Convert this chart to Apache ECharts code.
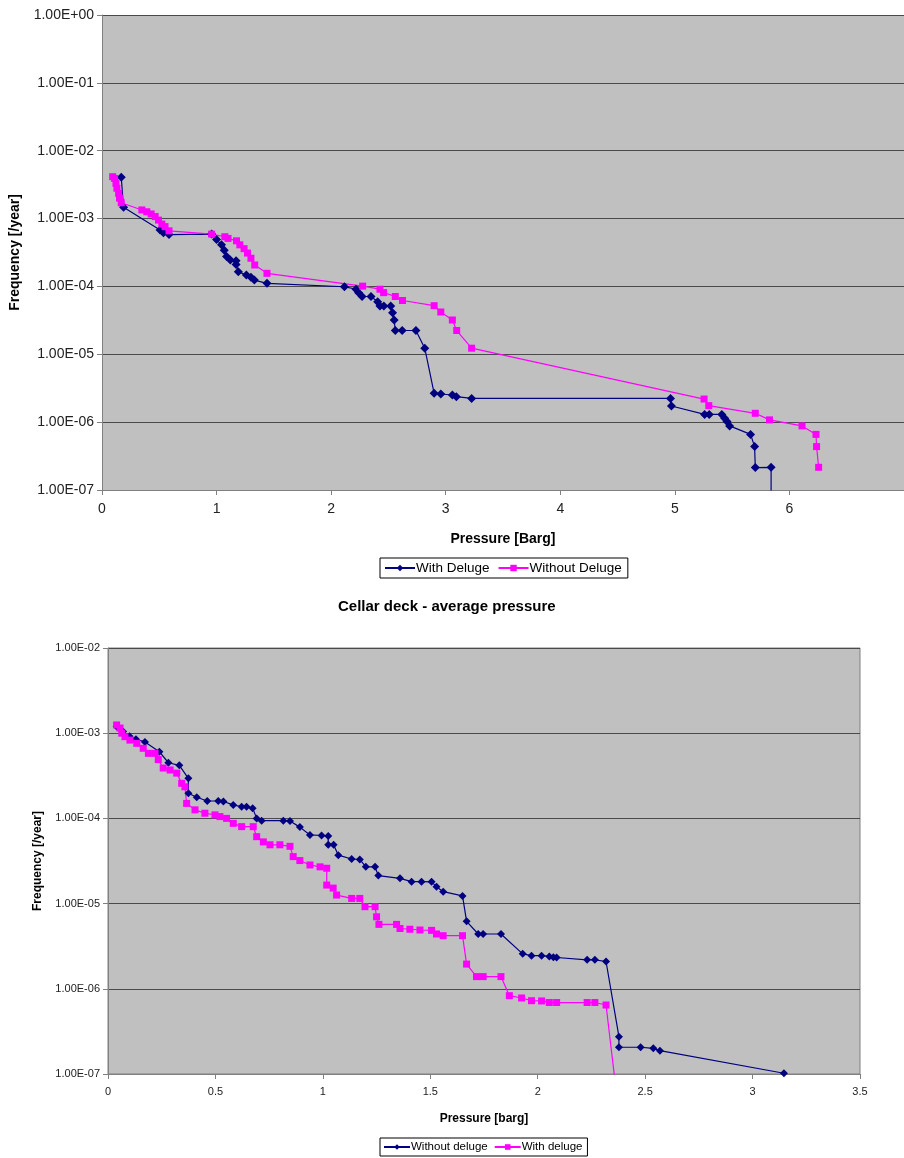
<!DOCTYPE html>
<html><head><meta charset="utf-8">
<script src="https://cdn.jsdelivr.net/npm/echarts@6/dist/echarts.min.js"></script>
<style>html,body{margin:0;padding:0;background:#fff}#c{width:904px;height:1158px}</style>
</head><body><div id="c"></div>
<script>
// ---- Chart 1 (top) ----
const topWithP = [0.168,0.188,0.507,0.536,0.585,0.957,1.0,1.043,1.067,1.087,1.12,1.17,1.17,1.19,1.26,1.30,1.33,1.44,2.116,2.217,2.24,2.27,2.348,2.406,2.426,2.46,2.52,2.536,2.55,2.56,2.62,2.74,2.817,2.899,2.957,3.058,3.093,3.226,4.962,4.97,5.26,5.30,5.41,5.435,5.455,5.478,5.661,5.696,5.702,5.84,5.84];
const topWithF = [4.06e-3,1.47e-3,6.8e-4,6.2e-4,5.8e-4,5.9e-4,4.9e-4,4.1e-4,3.4e-4,2.75e-4,2.45e-4,2.4e-4,2.1e-4,1.65e-4,1.47e-4,1.36e-4,1.24e-4,1.11e-4,9.9e-5,9.1e-5,8.1e-5,7.1e-5,7.1e-5,5.96e-5,5.15e-5,5.15e-5,5.15e-5,4.1e-5,3.2e-5,2.24e-5,2.24e-5,2.24e-5,1.23e-5,2.66e-6,2.6e-6,2.51e-6,2.37e-6,2.24e-6,2.24e-6,1.73e-6,1.3e-6,1.3e-6,1.3e-6,1.14e-6,1.02e-6,8.8e-7,6.6e-7,4.36e-7,2.14e-7,2.16e-7,5e-8];
const topWithoutP = [0.093,0.11,0.122,0.13,0.145,0.153,0.168,0.348,0.391,0.429,0.464,0.493,0.522,0.55,0.585,0.957,1.072,1.1,1.174,1.203,1.24,1.27,1.30,1.333,1.44,2.275,2.426,2.458,2.56,2.623,2.899,2.957,3.058,3.096,3.226,5.255,5.296,5.702,5.826,6.11,6.232,6.237,6.255];
const topWithoutF = [4.14e-3,3.9e-3,3.3e-3,2.8e-3,2.36e-3,2.0e-3,1.71e-3,1.34e-3,1.26e-3,1.17e-3,1.07e-3,9.5e-4,8.3e-4,7.6e-4,6.6e-4,5.9e-4,5.4e-4,5.1e-4,4.7e-4,4.1e-4,3.6e-4,3.1e-4,2.6e-4,2.07e-4,1.56e-4,1.01e-4,9.1e-5,8.1e-5,7.1e-5,6.2e-5,5.2e-5,4.2e-5,3.2e-5,2.24e-5,1.23e-5,2.19e-6,1.75e-6,1.35e-6,1.08e-6,8.8e-7,6.6e-7,4.36e-7,2.16e-7];

// ---- Chart 2 (bottom) ----
const botWithoutP = [0.04,0.07,0.10,0.13,0.172,0.239,0.281,0.332,0.374,0.374,0.413,0.462,0.513,0.537,0.583,0.622,0.645,0.673,0.692,0.715,0.816,0.847,0.893,0.94,0.994,1.025,1.025,1.05,1.072,1.134,1.172,1.2,1.243,1.258,1.359,1.413,1.459,1.506,1.529,1.56,1.65,1.669,1.723,1.746,1.829,1.93,1.971,2.018,2.054,2.073,2.088,2.23,2.266,2.318,2.378,2.378,2.479,2.538,2.569,3.146];
const botWithoutF = [1.2e-3,1.05e-3,9.2e-4,8.5e-4,7.9e-4,6.07e-4,4.5e-4,4.2e-4,2.95e-4,1.97e-4,1.77e-4,1.6e-4,1.6e-4,1.58e-4,1.44e-4,1.37e-4,1.37e-4,1.32e-4,1.0e-4,9.4e-5,9.4e-5,9.3e-5,7.9e-5,6.4e-5,6.3e-5,6.2e-5,4.9e-5,4.9e-5,3.7e-5,3.34e-5,3.3e-5,2.7e-5,2.7e-5,2.13e-5,1.98e-5,1.81e-5,1.81e-5,1.8e-5,1.58e-5,1.38e-5,1.23e-5,6.2e-6,4.4e-6,4.4e-6,4.4e-6,2.57e-6,2.45e-6,2.45e-6,2.4e-6,2.35e-6,2.33e-6,2.19e-6,2.19e-6,2.09e-6,2.74e-7,2.06e-7,2.06e-7,2.0e-7,1.88e-7,1.02e-7];
const botWithP = [0.04,0.056,0.064,0.079,0.102,0.134,0.164,0.188,0.219,0.234,0.257,0.289,0.32,0.343,0.358,0.366,0.405,0.451,0.498,0.521,0.552,0.583,0.622,0.676,0.692,0.723,0.754,0.80,0.847,0.862,0.893,0.94,0.987,1.018,1.018,1.048,1.064,1.134,1.172,1.196,1.243,1.25,1.261,1.343,1.359,1.405,1.452,1.506,1.529,1.56,1.65,1.669,1.715,1.746,1.829,1.868,1.925,1.971,2.018,2.054,2.088,2.23,2.266,2.318,2.37];
const botWithF = [1.25e-3,1.15e-3,1.0e-3,9.1e-4,8.3e-4,7.6e-4,6.65e-4,5.8e-4,5.8e-4,4.9e-4,3.9e-4,3.7e-4,3.4e-4,2.58e-4,2.35e-4,1.5e-4,1.26e-4,1.15e-4,1.1e-4,1.05e-4,1.0e-4,8.75e-5,8.0e-5,8.0e-5,6.1e-5,5.3e-5,4.9e-5,4.9e-5,4.7e-5,3.56e-5,3.2e-5,2.84e-5,2.7e-5,2.6e-5,1.65e-5,1.52e-5,1.26e-5,1.15e-5,1.15e-5,9.2e-6,9.2e-6,7.0e-6,5.7e-6,5.7e-6,5.1e-6,5.0e-6,4.9e-6,4.85e-6,4.4e-6,4.2e-6,4.2e-6,1.95e-6,1.39e-6,1.39e-6,1.39e-6,8.3e-7,7.8e-7,7.25e-7,7.2e-7,6.9e-7,6.9e-7,6.9e-7,6.9e-7,6.45e-7,5e-8];

const zip = (a, b) => a.map((v, i) => [v, b[i]]);
const sci = v => {
  const e = Math.round(Math.log10(v));
  const a = Math.abs(e);
  return '1.00E' + (e >= 0 ? '+' : '-') + (a < 10 ? '0' : '') + a;
};
const FONT = '"Liberation Sans", Arial, sans-serif';
const NAVY = '#000080', MAG = '#FF00FF';

const chart = echarts.init(document.getElementById('c'), null, {renderer: 'canvas'});
function xAxis(grid, max, interval, name, gap, fs, nfs, hideMax) {
  return {
    type: 'value', gridIndex: grid, min: 0, max: max, interval: interval,
    name: name, nameLocation: 'middle', nameGap: gap,
    nameTextStyle: {fontFamily: FONT, fontWeight: 'bold', fontSize: nfs, color: '#000'},
    axisLine: {show: true, lineStyle: {color: '#808080', width: 1}},
    axisTick: {show: true, inside: false, length: 5, lineStyle: {color: '#808080'}},
    axisLabel: {fontFamily: FONT, fontSize: fs, color: '#222', margin: 12, showMaxLabel: !hideMax},
    splitLine: {show: false}
  };
}
function yAxis(grid, min, max, gap, fs, nfs) {
  return {
    type: 'log', logBase: 10, gridIndex: grid, min: min, max: max,
    name: 'Frequency [/year]', nameLocation: 'middle', nameGap: gap, nameRotate: 90,
    nameTextStyle: {fontFamily: FONT, fontWeight: 'bold', fontSize: nfs, color: '#000'},
    axisLine: {show: true, lineStyle: {color: '#808080', width: 1}},
    axisTick: {show: true, length: 5, lineStyle: {color: '#808080'}},
    minorTick: {show: false},
    axisLabel: {fontFamily: FONT, fontSize: fs, color: '#222', margin: 8, formatter: sci},
    splitLine: {show: true, lineStyle: {color: '#4a4a4a', width: 1}}
  };
}
function ser(name, xi, data, color, symbol, size) {
  return {
    name: name, type: 'line', xAxisIndex: xi, yAxisIndex: xi, data: data,
    symbol: symbol, symbolSize: size, showAllSymbol: true, clip: true,
    lineStyle: {color: color, width: 1.2}, itemStyle: {color: color, borderWidth: 0},
    emphasis: {disabled: true}, animation: false
  };
}
const option = {
  backgroundColor: '#ffffff',
  animation: false,
  title: {
    text: 'Cellar deck - average pressure', left: 333, top: 594,
    textStyle: {fontFamily: FONT, fontWeight: 'bold', fontSize: 15, color: '#000'}
  },
  legend: [
    {
      data: ['With Deluge', 'Without Deluge'], left: 380, top: 558, orient: 'horizontal',
      borderColor: '#000', borderWidth: 1, padding: [3, 6, 3, 4], itemGap: 8,
      itemWidth: 30, itemHeight: 8,
      textStyle: {fontFamily: FONT, fontSize: 13.5, color: '#000', padding: [0, 0, 0, -4]}
    },
    {
      data: ['Without deluge', 'With deluge'], left: 380, top: 1138, orient: 'horizontal',
      borderColor: '#000', borderWidth: 1, padding: [3, 5, 3, 3], itemGap: 6,
      itemWidth: 26, itemHeight: 7,
      textStyle: {fontFamily: FONT, fontSize: 11.5, color: '#000', padding: [0, 0, 0, -4]}
    }
  ],
  grid: [
    {left: 100, top: 15, width: 804, height: 475, show: true, backgroundColor: '#C0C0C0', borderWidth: 0},
    {left: 108, top: 648, width: 752, height: 426, show: true, backgroundColor: '#C0C0C0', borderColor: '#808080', borderWidth: 1}
  ],
  xAxis: [
    xAxis(0, 7, 1, 'Pressure [Barg]', 42, 14, 14, true),
    xAxis(1, 3.5, 0.5, 'Pressure [barg]', 39, 11, 12, false)
  ],
  yAxis: [
    yAxis(0, 1e-7, 1, 80, 14, 14),
    yAxis(1, 1e-7, 1e-2, 64, 11, 12)
  ],
  series: [
    ser('With Deluge', 0, zip(topWithP, topWithF), NAVY, 'diamond', 9),
    ser('Without Deluge', 0, zip(topWithoutP, topWithoutF), MAG, 'rect', 7),
    ser('Without deluge', 1, zip(botWithoutP, botWithoutF), NAVY, 'diamond', 8),
    ser('With deluge', 1, zip(botWithP, botWithF), MAG, 'rect', 7)
  ]
};
chart.setOption(option);
</script></body></html>
